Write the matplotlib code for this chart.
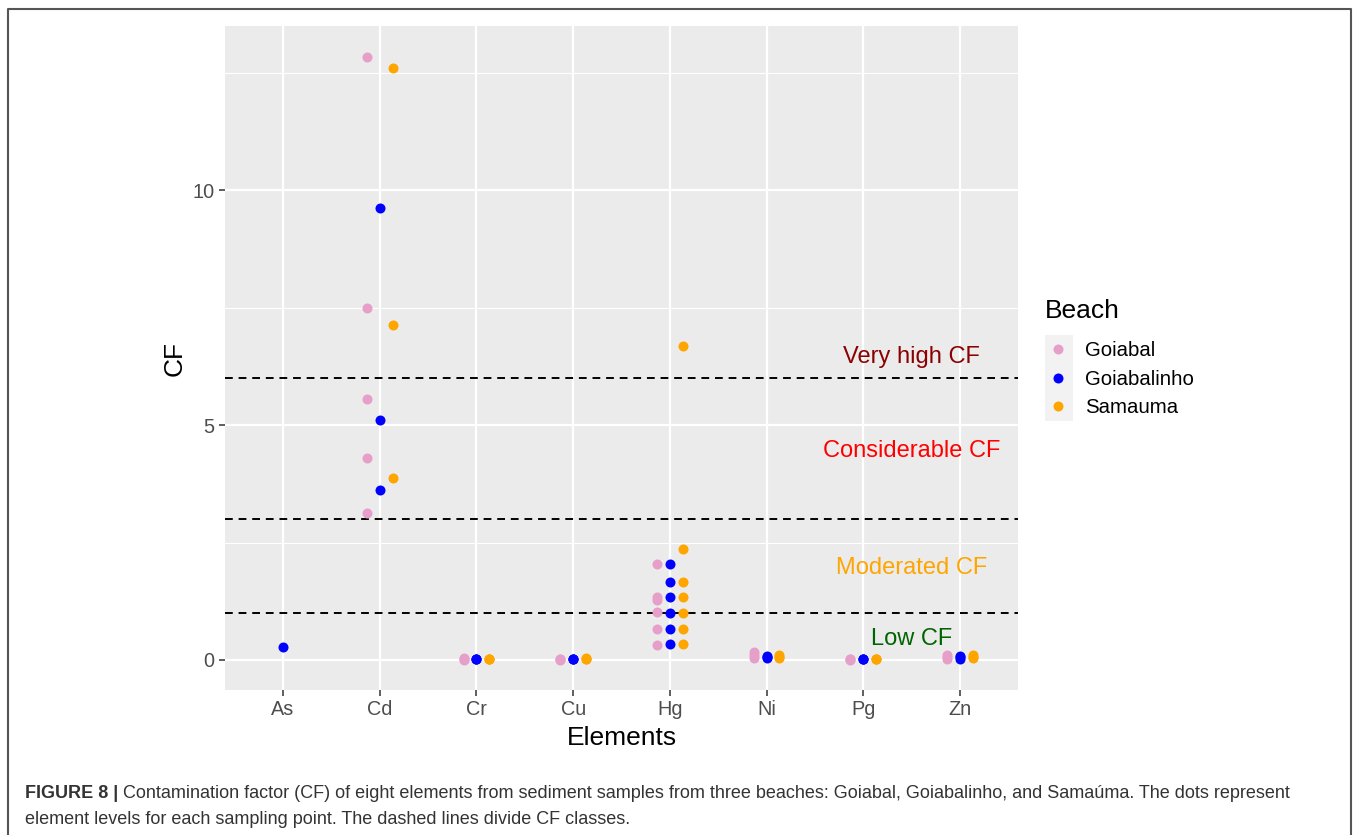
import matplotlib
matplotlib.use("Agg")
import matplotlib.pyplot as plt
from matplotlib.patches import Rectangle
from matplotlib.lines import Line2D
import numpy as np

plt.rcParams['font.family'] = ['Liberation Sans', 'DejaVu Sans']

elements = ["As", "Cd", "Cr", "Cu", "Hg", "Ni", "Pg", "Zn"]
beaches = ["Goiabal", "Goiabalinho", "Samauma"]
colors = {"Goiabal": "#E69FC8", "Goiabalinho": "#0000FF", "Samauma": "#FFA500"}

goiabal = {
    "Cd": [12.85, 7.49, 5.55, 4.30, 3.13],
    "Cr": [0.0, 0.02, 0.04],
    "Cu": [0.0, 0.02, 0.01],
    "Hg": [2.05, 1.35, 1.28, 1.02, 0.66, 0.32],
    "Ni": [0.04, 0.10, 0.16],
    "Pg": [0.0, 0.01, 0.02],
    "Zn": [0.03, 0.06, 0.10],
}
goiabalinho = {
    "As": [0.28],
    "Cd": [9.62, 5.11, 3.62],
    "Cr": [0.02, 0.02, 0.03],
    "Cu": [0.01, 0.02, 0.03],
    "Hg": [2.05, 1.65, 1.35, 1.01, 0.66, 0.33],
    "Ni": [0.04, 0.06, 0.08],
    "Pg": [0.01, 0.01, 0.02],
    "Zn": [0.03, 0.06, 0.08],
}
samauma = {
    "Cd": [12.6, 7.13, 3.87],
    "Cr": [0.02, 0.02, 0.03],
    "Cu": [0.01, 0.03, 0.05],
    "Hg": [6.68, 2.36, 1.65, 1.35, 1.01, 0.66, 0.33],
    "Ni": [0.05, 0.07, 0.10],
    "Pg": [0.01, 0.02, 0.02],
    "Zn": [0.04, 0.06, 0.10],
}
data = {"Goiabal": goiabal, "Goiabalinho": goiabalinho, "Samauma": samauma}

cf_lines = [1, 3, 6]
cf_labels = [("Very high CF", 6.45, "#8B0000"),
             ("Considerable CF", 4.45, "#FF0000"),
             ("Moderated CF", 1.95, "#FFA500"),
             ("Low CF", 0.45, "#006400")]

W, H = 1358, 835
fig = plt.figure(figsize=(W / 100, H / 100), dpi=100)
fig.patch.set_facecolor("white")

ax = fig.add_axes([225 / W, 1 - 690 / H, (1018 - 225) / W, (690 - 26) / H])
ax.set_facecolor("#EBEBEB")
for s in ax.spines.values():
    s.set_visible(False)

ax.set_xlim(-0.6, len(elements) - 0.4)
ax.set_ylim(-0.64, 13.5)
ax.set_xticks(range(len(elements)))
ax.set_xticklabels(elements)
ax.set_yticks([0, 5, 10])
ax.set_yticks([2.5, 7.5, 12.5], minor=True)
ax.grid(True, which="major", color="white", lw=1.6)
ax.grid(True, which="minor", axis="y", color="white", lw=0.8)
ax.set_axisbelow(True)
ax.tick_params(axis="both", which="major", length=4.5, width=1.1, color="#333333",
               labelsize=14.3, labelcolor="#4D4D4D", pad=3)
ax.tick_params(axis="x", which="major", pad=2.5)
ax.tick_params(axis="both", which="minor", length=0)

offsets = {"Goiabal": -0.133, "Goiabalinho": 0.0, "Samauma": 0.133}
for b in beaches:
    for el, vals in data[b].items():
        xi = elements.index(el) + offsets[b]
        ax.scatter([xi] * len(vals), vals, s=52, color=colors[b], linewidths=0, zorder=3)

for yv in cf_lines:
    ax.axhline(yv, color="black", lw=1.4, linestyle=(0, (4, 3)), zorder=2)

for txt, yv, c in cf_labels:
    ax.text(6.5, yv, txt, color=c, fontsize=17, ha="center", va="center", zorder=4)

ax.set_xlabel("Elements", fontsize=19, labelpad=5)
ax.set_ylabel("CF", fontsize=19, labelpad=4)

# legend
fig.text(1045 / W, 1 - 311 / H, "Beach", fontsize=19, ha="left", va="center")
fig.patches.append(Rectangle((1045 / W, 1 - 421 / H), 28 / W, 86 / H,
                             transform=fig.transFigure, facecolor="#F2F2F2",
                             edgecolor="none", zorder=0))
for i, b in enumerate(beaches):
    yy = 1 - (349 + 28.5 * i) / H
    fig.lines.append(Line2D([1058 / W], [yy], marker="o", markersize=7.2, color=colors[b],
                            markeredgewidth=0, linestyle="none", transform=fig.transFigure))
    fig.text(1085 / W, yy - 2 / H, b, fontsize=14.7, ha="left", va="center")

# outer frame
fig.lines.append(Line2D([8 / W, 8 / W, 1351 / W, 1351 / W], [0, 1 - 9 / H, 1 - 9 / H, 0],
                        color="#555555", lw=1.5, transform=fig.transFigure))

# caption
t1 = fig.text(25 / W, 1 - 793 / H, "FIGURE 8 |", fontsize=13, fontweight="bold",
              color="#333333", ha="left", va="center")
fig.canvas.draw()
bb = t1.get_window_extent()
fig.text((bb.x1 + 5) / W, 1 - 793 / H,
         "Contamination factor (CF) of eight elements from sediment samples from three beaches: "
         "Goiabal, Goiabalinho, and Samaúma. The dots represent",
         fontsize=13, color="#333333", ha="left", va="center")
fig.text(25 / W, 1 - 819 / H,
         "element levels for each sampling point. The dashed lines divide CF classes.",
         fontsize=13, color="#333333", ha="left", va="center")

fig.savefig("out.png", dpi=100)
